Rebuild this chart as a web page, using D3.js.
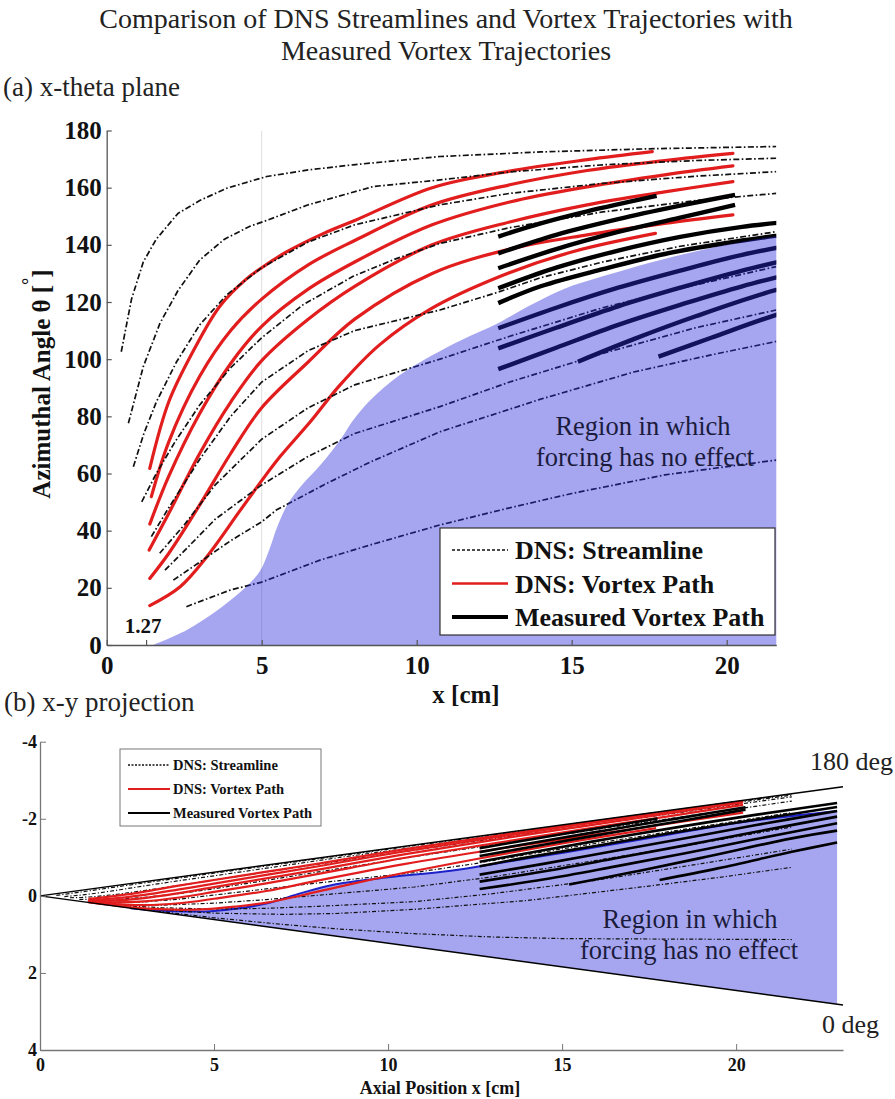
<!DOCTYPE html>
<html>
<head>
<meta charset="utf-8">
<script src="https://cdn.jsdelivr.net/npm/d3@7"></script>
<style>
  body { margin: 0; background: #fff; }
  svg text { font-family: "Liberation Serif", "Times New Roman", serif; }
</style>
</head>
<body>
<svg id="fig" width="895" height="1099"></svg>
<script>
// ---------- axis ticks ----------
const xTicksA = [0, 5, 10, 15, 20];
const thetaTicks = [0, 20, 40, 60, 80, 100, 120, 140, 160, 180];
const forcingStartX = 1.27;
const xTicksB = [0, 5, 10, 15, 20];
const yTicksB = [-4, -2, 0, 2, 4];
const coneHalfAngleDeg = 7;      // half-angle of the diffuser cone
const coneLengthX = 23.07;       // axial extent of the cone edges in (b)

// ---------- DNS streamlines: [x cm, theta deg] ----------
const streamlines = [
  [[0.47,102.6],[0.8,121],[1.18,134],[1.6,142],[2.3,151],[3.0,155.5],[3.87,159.8],[5.16,163.9],[6.5,166.2],[7.95,168],[10.75,170.9],[14,172.5],[17.5,173.6],[21.6,174.4]],
  [[0.7,77.6],[1.18,97.4],[1.72,112.6],[2.3,124],[3.0,134.7],[3.8,142],[4.62,146.5],[5.15,148.5],[6.5,154],[8.6,160.4],[10.75,162.7],[13,165.5],[16,168],[19,169.5],[21.6,170.3]],
  [[0.86,62.4],[1.2,74],[1.6,85],[2.25,99],[3.0,112],[3.87,122.5],[5,132],[6.5,141],[8,147],[10.75,154],[13,158],[16,161.5],[19,164],[21.6,165.6]],
  [[1.13,50.1],[1.6,60],[2.2,71],[3,84],[4,97],[5,107.5],[6.33,119],[7.95,129],[9.3,135],[10.75,140.5],[13,146],[16,151.5],[19,155.5],[21.6,158]],
  [[1.44,37.9],[2,48],[3,65],[4,80],[5,92],[6.5,103],[8,110],[10.75,117.2],[12.5,123],[14,128.5],[16,134],[18.5,139.5],[21.6,144.6]],
  [[1.71,32.1],[2.5,42],[3.5,56],[5,72],[6.5,83],[8,91],[10.75,100],[13,108],[16,118],[19,126],[21.6,132.4]],
  [[1.88,26.2],[2.6,34],[3.5,44],[5,56],[6.5,66],[8,74],[10.75,83.4],[13,92],[16,102],[19,111],[21.6,117.2]],
  [[2.15,22.7],[3,29],[4,36.5],[5,43.1],[5.47,47.2],[7,56],[8.5,64],[10.75,74.6],[14,86],[17,95.5],[19.5,101.5],[21.6,106.2]],
  [[2.57,13.4],[3.2,16],[3.98,19.2],[5,22],[6.88,29.7],[8.5,35],[10.75,42],[13,48],[15,53],[18,59.5],[21.6,64.7]]
];

// ---------- DNS vortex paths ----------
const vortexPathsDNS = [
  [[1.39,61.8],[2,85],[2.8,103],[3.65,118.5],[4.5,128],[5,132],[5.8,137.5],[7,144],[8,148.5],[10.5,160],[13,165.8],[15.5,169.8],[17.6,172.6]],
  [[1.44,51.9],[2,71],[3,94],[4,110],[5,121],[6.5,133],[8,141.5],[10.5,154],[13,161],[15.5,166],[18,169.5],[20.2,172]],
  [[1.39,42.3],[2,59],[3,81],[4,98.5],[5,111.5],[6.5,124.5],[8,134],[10.5,147],[13,155],[15.5,160.3],[18,164.5],[20.2,167.6]],
  [[1.37,33.2],[2,46],[3,67],[4,85],[5,99.5],[6.5,114],[8,125.5],[10.5,140],[13,148],[15.5,154],[18,158.5],[20.2,162.1]],
  [[1.39,23.3],[2,32],[3,49],[4,67],[5,83],[6.5,99],[8,114],[10.5,130],[13,138.5],[15.5,143.5],[18,147.5],[20.2,150.5]],
  [[1.39,13.8],[2.37,20.4],[3.23,30.9],[4.3,47],[5,57.5],[5.6,66],[6.56,78],[7.53,91],[8.8,105],[10.44,117.5],[12.7,129],[15,137.5],[17.7,144]]
];

// ---------- measured vortex paths ----------
const vortexPathsMeasured = [
  [[12.63,142.9],[14,147.5],[15.5,151.7],[17.74,157.1]],
  [[12.63,137],[14.5,143.5],[16.5,149],[18.5,153.7],[20.27,157.5]],
  [[12.63,131.8],[14.5,138.5],[16.5,144.5],[18.5,149.5],[20.27,154]],
  [[12.63,124.8],[14.5,132],[16.5,138],[18.5,142.8],[20.5,146.3],[22.9,149]],
  [[12.63,119.6],[14,125.5],[16,131.5],[18,136.8],[20.5,141.5],[22.9,145]],
  [[12.63,110.8],[14.5,118],[16.5,125],[18.5,131],[20.5,136.5],[22.9,141.5]],
  [[12.63,103.8],[14.5,111],[16.5,118.5],[18.5,125],[20.5,131],[22.9,137]],
  [[12.63,96.5],[14.5,104],[16.5,112],[18.5,119],[20.5,125.5],[22.9,132]],
  [[15.2,99.1],[17,107],[19,115],[21.6,124.2],[22.9,127]],
  [[17.8,100.9],[19.5,107.5],[21.6,115.5],[22.9,119.5]]
];

// ---------- edge of the region where forcing has no effect ----------
// (a) in x-theta coordinates
const noEffectBoundaryTheta = [[1.49,0],[2.57,5.2],[3.65,12.8],[4.5,20.4],[4.95,26],[5.25,33.5],[5.5,41.3],[5.85,49.5],[6.34,56.5],[6.88,62.8],[7.53,71.7],[7.95,78.6],[8.5,85.6],[9.4,94],[10.44,101],[11.5,107],[12.59,112.4],[13.6,118.5],[14.73,124.5],[16,129],[17.96,135],[20,140],[21.6,143],[22.9,144]];
// (b) in x-y coordinates [cm]
const noEffectBoundaryXY = [[2.6,0.32],[3.93,0.4],[5,0.39],[6.5,0.2],[7.5,-0.07],[8.5,-0.3],[10,-0.48],[11.8,-0.65],[13.5,-0.9],[15.7,-1.22],[18,-1.58],[20.26,-1.92],[22.9,-2.2]];

// ---------- drawing ----------
const svg = d3.select("#fig");
const defs = svg.append("defs");
const deg = Math.PI / 180;
const coneSlope = Math.tan(coneHalfAngleDeg * deg);
const RED = "#e21d1d";
const SERIF = '"Liberation Serif", "Times New Roman", serif';

// titles
svg.append("text").attr("x", 446).attr("y", 28).attr("text-anchor", "middle")
  .attr("font-size", 28).attr("fill", "#222")
  .text("Comparison of DNS Streamlines and Vortex Trajectories with");
svg.append("text").attr("x", 446).attr("y", 60).attr("text-anchor", "middle")
  .attr("font-size", 28).attr("fill", "#222")
  .text("Measured Vortex Trajectories");
svg.append("text").attr("x", 3).attr("y", 96).attr("font-size", 27).attr("fill", "#222")
  .text("(a) x-theta plane");
svg.append("text").attr("x", 4).attr("y", 711).attr("font-size", 27).attr("fill", "#222")
  .text("(b) x-y projection");

// ===== panel (a): x-theta plane =====
const xA = d3.scaleLinear().domain([0, 21.6]).range([106.7, 776.3]);
const yA = d3.scaleLinear().domain([0, 180]).range([645, 130.5]);
defs.append("clipPath").attr("id", "clipA").append("rect")
  .attr("x", xA(0)).attr("y", yA(180))
  .attr("width", xA(21.6) - xA(0)).attr("height", yA(0) - yA(180));

const gA = svg.append("g");
const plotA = gA.append("g").attr("clip-path", "url(#clipA)");
const lineA = d3.line().x(d => xA(d[0])).y(d => yA(d[1]));
const smoothA = d3.line().curve(d3.curveCatmullRom.alpha(0.5)).x(d => xA(d[0])).y(d => yA(d[1]));

// faint reference line at x = 5
plotA.append("line").attr("x1", xA(5)).attr("x2", xA(5)).attr("y1", yA(180)).attr("y2", yA(0))
  .attr("stroke", "#dedede").attr("stroke-width", 1);

plotA.selectAll("path.dns").data(vortexPathsDNS).join("path").attr("class", "dns")
  .attr("d", smoothA).attr("fill", "none").attr("stroke", RED)
  .attr("stroke-width", 3.2).attr("stroke-linecap", "round");

plotA.selectAll("path.stream").data(streamlines).join("path").attr("class", "stream")
  .attr("d", lineA).attr("fill", "none").attr("stroke", "#111")
  .attr("stroke-width", 1.7).attr("stroke-dasharray", "6,2.4,1.6,2.4");

plotA.selectAll("path.meas").data(vortexPathsMeasured).join("path").attr("class", "meas")
  .attr("d", smoothA).attr("fill", "none").attr("stroke", "#000")
  .attr("stroke-width", 4.4);

// translucent region overlay
const regionA = noEffectBoundaryTheta.concat([[22.9, 0]]);
const regionPathA = d3.line().curve(d3.curveCatmullRom.alpha(0.5)).x(d => xA(d[0])).y(d => yA(d[1]))(noEffectBoundaryTheta)
  + "L" + xA(22.9) + "," + yA(0) + "Z";
plotA.append("path").attr("d", regionPathA)
  .attr("fill", "rgb(40,40,219)").attr("fill-opacity", 0.42).attr("stroke", "none");

gA.append("text").attr("x", 643).attr("y", 434.5).attr("text-anchor", "middle")
  .attr("font-size", 26.5).attr("fill", "#1b1b3c").text("Region in which");
gA.append("text").attr("x", 645).attr("y", 465.5).attr("text-anchor", "middle")
  .attr("font-size", 26.5).attr("fill", "#1b1b3c").text("forcing has no effect");

// axes (a)
const axXA = gA.append("g").attr("transform", `translate(0,${yA(0)})`)
  .call(d3.axisBottom(xA).tickValues(xTicksA.concat([forcingStartX])).tickSize(-5).tickSizeOuter(0)
    .tickPadding(11).tickFormat(d => d === forcingStartX ? "" : String(d)));
const axYA = gA.append("g").attr("transform", `translate(${xA(0)},0)`)
  .call(d3.axisLeft(yA).tickValues(thetaTicks).tickSize(-5).tickSizeOuter(0)
    .tickPadding(5).tickFormat(d => String(d)));
[axXA, axYA].forEach(ax => {
  ax.attr("font-family", null);
  ax.select(".domain").attr("stroke", "#555").attr("stroke-width", 1.3);
  ax.selectAll(".tick line").attr("stroke", "#555").attr("stroke-width", 1.2);
  ax.selectAll(".tick text").attr("font-size", 25).attr("font-weight", "bold")
    .attr("fill", "#111").style("font-family", SERIF);
});
gA.append("text").attr("x", 143).attr("y", 633).attr("text-anchor", "middle")
  .attr("font-size", 21).attr("font-weight", "bold").attr("fill", "#111").text(String(forcingStartX));

gA.append("text").attr("x", 466).attr("y", 703).attr("text-anchor", "middle")
  .attr("font-size", 25).attr("font-weight", "bold").attr("fill", "#111").text("x [cm]");

const yLabA = gA.append("text").attr("transform", "translate(50,384) rotate(-90)")
  .attr("text-anchor", "middle").attr("font-size", 25).attr("font-weight", "bold").attr("fill", "#111");
yLabA.append("tspan").text("Azimuthal Angle θ [");
yLabA.append("tspan").attr("dy", -15).attr("font-size", 18).text("°");
yLabA.append("tspan").attr("dy", 15).text("]");

// legend (a)
const legendItems = [
  { label: "DNS: Streamline", color: "#111", width: 1.3, dash: "3,2" },
  { label: "DNS: Vortex Path", color: RED, width: 2.6, dash: null },
  { label: "Measured Vortex Path", color: "#000", width: 4, dash: null }
];
const legA = gA.append("g");
legA.append("rect").attr("x", 440).attr("y", 528).attr("width", 335).attr("height", 107)
  .attr("fill", "#fff").attr("stroke", "#333").attr("stroke-width", 1.2);
legendItems.forEach((it, i) => {
  const yy = 550 + i * 33.5;
  legA.append("line").attr("x1", 452).attr("x2", 508).attr("y1", yy).attr("y2", yy)
    .attr("stroke", it.color).attr("stroke-width", it.width)
    .attr("stroke-dasharray", it.dash);
  legA.append("text").attr("x", 515).attr("y", yy).attr("dy", "0.35em")
    .attr("font-size", 26).attr("font-weight", "bold").attr("fill", "#111").text(it.label);
});

// ===== panel (b): x-y projection =====
const xB = d3.scaleLinear().domain([0, coneLengthX]).range([40, 843]);
const yB = d3.scaleLinear().domain([-4, 4]).range([741.7, 1050]);
const project = d => [d[0], coneSlope * d[0] * Math.cos(d[1] * deg)];
const lineB = d3.line().x(d => xB(d[0])).y(d => yB(d[1]));
const smoothB = d3.line().curve(d3.curveCatmullRom.alpha(0.5)).x(d => xB(d[0])).y(d => yB(d[1]));
const gB = svg.append("g");

// region where forcing has no effect
const regionPathB = smoothB(noEffectBoundaryXY)
  + "L" + xB(22.9) + "," + yB(coneSlope * 22.9)
  + "L" + xB(2.6) + "," + yB(coneSlope * 2.6) + "Z";
gB.append("path").attr("d", regionPathB).attr("fill", "#a6a6f0").attr("stroke", "none");
gB.append("path").attr("d", smoothB(noEffectBoundaryXY)).attr("fill", "none")
  .attr("stroke", "#1c22c8").attr("stroke-width", 2);

gB.selectAll("path.stream").data(streamlines).join("path").attr("class", "stream")
  .attr("d", d => lineB(d.map(project))).attr("fill", "none").attr("stroke", "#111")
  .attr("stroke-width", 1.2).attr("stroke-dasharray", "4,2,1.2,2");

gB.selectAll("path.dns").data(vortexPathsDNS).join("path").attr("class", "dns")
  .attr("d", d => smoothB(d.map(project))).attr("fill", "none").attr("stroke", RED)
  .attr("stroke-width", 2.2);

gB.selectAll("path.meas").data(vortexPathsMeasured).join("path").attr("class", "meas")
  .attr("d", d => smoothB(d.map(project))).attr("fill", "none").attr("stroke", "#000")
  .attr("stroke-width", 2.6);

// cone edges (180 deg on top, 0 deg below)
const coneEdges = [
  { theta: 180, label: "180 deg", lx: 810, ly: 770 },
  { theta: 0, label: "0 deg", lx: 822, ly: 1033 }
];
coneEdges.forEach(e => {
  gB.append("path").attr("d", lineB([project([0, e.theta]), project([coneLengthX, e.theta])]))
    .attr("stroke", "#000").attr("stroke-width", 1.4).attr("fill", "none");
  gB.append("text").attr("x", e.lx).attr("y", e.ly).attr("font-size", 26).attr("fill", "#222").text(e.label);
});

gB.append("text").attr("x", 690).attr("y", 928).attr("text-anchor", "middle")
  .attr("font-size", 26.5).attr("fill", "#1b1b3c").text("Region in which");
gB.append("text").attr("x", 689).attr("y", 959).attr("text-anchor", "middle")
  .attr("font-size", 26.5).attr("fill", "#1b1b3c").text("forcing has no effect");

// axes (b)
const axXB = gB.append("g").attr("transform", `translate(0,${yB(4)})`)
  .call(d3.axisBottom(xB).tickValues(xTicksB).tickSize(-6).tickSizeOuter(0)
    .tickPadding(8).tickFormat(d => String(d)));
const axYB = gB.append("g").attr("transform", `translate(${xB(0)},0)`)
  .call(d3.axisLeft(yB).tickValues(yTicksB).tickSize(-6).tickSizeOuter(0)
    .tickPadding(3).tickFormat(d => String(d)));
[axXB, axYB].forEach(ax => {
  ax.attr("font-family", null);
  ax.select(".domain").attr("stroke", "#777").attr("stroke-width", 1.3);
  ax.selectAll(".tick line").attr("stroke", "#777");
  ax.selectAll(".tick text").attr("font-size", 18).attr("font-weight", "bold")
    .attr("fill", "#111").style("font-family", SERIF);
});
gB.append("text").attr("x", 440).attr("y", 1094).attr("text-anchor", "middle")
  .attr("font-size", 18).attr("font-weight", "bold").attr("fill", "#111").text("Axial Position x [cm]");

// legend (b)
const legB = gB.append("g");
legB.append("rect").attr("x", 120).attr("y", 749).attr("width", 201).attr("height", 77)
  .attr("fill", "#fff").attr("stroke", "#777").attr("stroke-width", 1);
legendItems.forEach((it, i) => {
  const yy = 765 + i * 24;
  legB.append("line").attr("x1", 128).attr("x2", 170).attr("y1", yy).attr("y2", yy)
    .attr("stroke", it.color).attr("stroke-width", Math.min(it.width, 2.2))
    .attr("stroke-dasharray", it.dash ? "2,1.5" : null);
  legB.append("text").attr("x", 173).attr("y", yy).attr("dy", "0.35em")
    .attr("font-size", 14.5).attr("font-weight", "bold").attr("fill", "#111").text(it.label);
});
</script>
</body>
</html>
